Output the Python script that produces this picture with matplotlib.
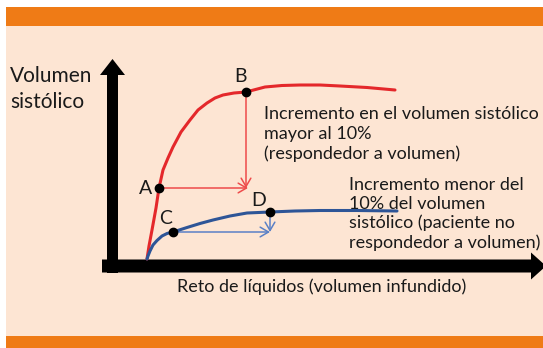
import matplotlib
matplotlib.use("Agg")
import matplotlib.pyplot as plt
from matplotlib.patches import Rectangle, Polygon

# ---- data (arbitrary units: infused volume vs stroke volume) ----
red_x = [35, 37, 40, 44, 47, 51, 56, 61, 69, 78, 86, 95, 103, 111, 122, 134, 153, 170, 188, 208, 228, 255, 283]
red_y = [7, 20, 36, 58, 78, 96, 108, 119, 134, 146, 156, 163, 168, 171, 173, 174, 179, 180.5, 181, 181, 180, 178.5, 176]
blue_x = [35, 36, 38, 41, 45, 50, 55, 61, 75, 88, 101, 118, 135, 158, 183, 208, 245, 285]
blue_y = [7, 10, 15, 21, 25.5, 30, 32.5, 34, 38.5, 42.5, 46, 50, 53, 54, 55, 55.5, 55.5, 55]
pts_labels = ["A", "B", "C", "D"]
pts_x = [47, 134, 61, 158]
pts_y = [78, 174, 34, 54]

y_label = "Volumen\nsistólico"
x_label = "Reto de líquidos (volumen infundido)"
note_resp = "Incremento en el volumen sistólico\nmayor al 10%\n(respondedor a volumen)"
note_nonresp = "Incremento menor del\n10% del volumen\nsistólico (paciente no\nrespondedor a volumen)"

ORANGE = "#EF7B16"
PEACH = "#FDE5D3"
RED = "#E4282B"
BLUE = "#2E5597"
RED_ARR = "#EE4B4B"
BLUE_ARR = "#5A80C6"
TXT = "#1a1a1a"
FONT = ["Lato", "DejaVu Sans"]

fig = plt.figure(figsize=(5.43, 3.48), dpi=100)
fig.patch.set_facecolor("white")

bg = fig.add_axes([0, 0, 1, 1])
bg.set_xlim(0, 543)
bg.set_ylim(348, 0)
bg.axis("off")
bg.add_patch(Rectangle((6, 7), 537, 19, color=ORANGE, lw=0))
bg.add_patch(Rectangle((6, 26), 537, 310, color=PEACH, lw=0))
bg.add_patch(Rectangle((6, 336), 537, 12, color=ORANGE, lw=0))

# axis arrows
bg.add_patch(Polygon([(107, 273), (107, 75), (100, 75), (112.5, 59), (125, 75), (118, 75), (118, 273)],
                     closed=True, color="black", lw=0))
bg.add_patch(Polygon([(102, 259.5), (531, 259.5), (531, 252.5), (546, 266), (531, 279.5), (531, 272.5), (102, 272.5)],
                     closed=True, color="black", lw=0))

bg.text(10, 89, y_label, fontsize=15, family=FONT, va="center", ha="left", linespacing=1.42, color=TXT)
bg.text(322, 287, x_label, fontsize=13, family=FONT, va="center", ha="center", color=TXT)
bg.text(264, 134, note_resp, fontsize=13, family=FONT, va="center", ha="left", linespacing=1.3, color=TXT)
bg.text(349, 214, note_nonresp, fontsize=13, family=FONT, va="center", ha="left", linespacing=1.23, color=TXT)

# data axes
ax = fig.add_axes([112 / 543, (348 - 266) / 348, 431 / 543, 207 / 348])
ax.set_xlim(0, 431)
ax.set_ylim(0, 207)
ax.axis("off")
ax.patch.set_alpha(0)

ax.plot(red_x, red_y, color=RED, lw=2.2, solid_capstyle="round", zorder=3)
ax.plot(blue_x, blue_y, color=BLUE, lw=2.2, solid_capstyle="round", zorder=3)

aprops = dict(arrowstyle="->,head_length=0.6,head_width=0.35", lw=1.1, shrinkA=0, shrinkB=0)
A, B, C, D = [(x, y) for x, y in zip(pts_x, pts_y)]
ax.annotate("", xy=(B[0] + 2, A[1]), xytext=A, arrowprops=dict(aprops, color=RED_ARR), zorder=2)
ax.annotate("", xy=(B[0], A[1]), xytext=B, arrowprops=dict(aprops, color=RED_ARR), zorder=2)
ax.annotate("", xy=(D[0], C[1]), xytext=C, arrowprops=dict(aprops, color=BLUE_ARR), zorder=2)
ax.annotate("", xy=(D[0], C[1]), xytext=D, arrowprops=dict(aprops, color=BLUE_ARR), zorder=2)

ax.plot(pts_x, pts_y, "o", color="black", ms=6, zorder=4)
offsets = {"A": (-13, 0), "B": (-6, 16), "C": (-7, 14), "D": (-11, 11)}
for lab, x, y in zip(pts_labels, pts_x, pts_y):
    ax.annotate(lab, (x, y), xytext=offsets[lab], textcoords="offset pixels",
                ha="center", va="center", fontsize=14, family=FONT, color=TXT)

fig.savefig("out.png", dpi=100)
